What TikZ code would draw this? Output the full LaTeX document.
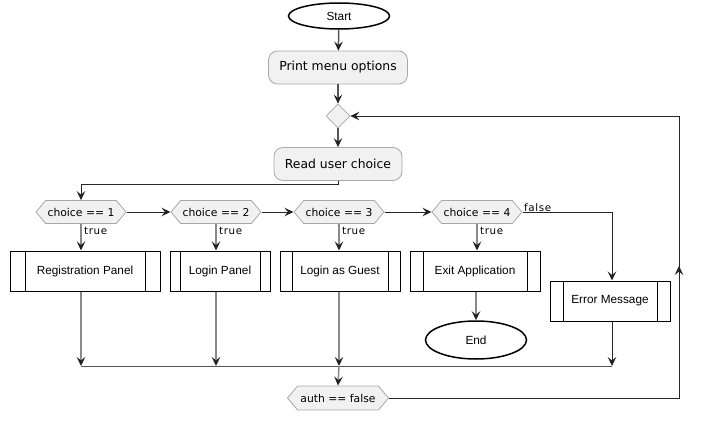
\documentclass[tikz,border=0pt]{standalone}
\usepackage{fontspec}
\setmainfont{Liberation Sans}
\newfontfamily\dvs{DejaVu Sans}
\newfontfamily\dvsl[LetterSpace=6]{DejaVu Sans}
\usetikzlibrary{shapes.geometric,shapes.symbols,arrows.meta}
\definecolor{boxfill}{HTML}{F1F1F1}
\definecolor{boxline}{HTML}{A8A8A8}
\definecolor{flowgray}{HTML}{8A8A8A}
\definecolor{topgray}{HTML}{555555}
\definecolor{tipcol}{HTML}{222222}
\tikzset{
  term/.style={ellipse, draw=black, line width=1.5pt, fill=white, inner sep=0pt,
    font=\fontsize{11.8}{14}\selectfont},
  act/.style={rectangle, rounded corners=9pt, draw=boxline, line width=0.8pt, fill=boxfill,
    minimum height=33pt, inner sep=0pt, font=\dvs\fontsize{12.4}{14}\selectfont},
  merge/.style={diamond, draw=boxline, line width=0.8pt, fill=boxfill, minimum size=24pt, inner sep=0pt},
  hexa/.style={signal, signal to=west and east, signal pointer angle=100, draw=boxline,
    line width=0.8pt, fill=boxfill, minimum width=90pt, minimum height=23pt, inner sep=0pt,
    font=\dvs\fontsize{10.8}{13}\selectfont},
  sub/.style={rectangle, draw=black, line width=1pt, fill=white, minimum height=40pt, inner sep=0pt,
    font=\fontsize{11.8}{14}\selectfont,
    path picture={\draw[line width=1pt]
      ([xshift=#1]path picture bounding box.north west) -- ([xshift=#1]path picture bounding box.south west)
      ([xshift=-#1]path picture bounding box.north east) -- ([xshift=-#1]path picture bounding box.south east);}},
  lbl/.style={font=\dvsl\fontsize{10.3}{12}\selectfont, inner sep=1pt},
  arr/.style={-{Stealth[length=9pt,width=8.5pt,inset=3.5pt,color=tipcol]}},
  gflow/.style={arr, draw=flowgray, line width=1.5pt},
  tflow/.style={arr, draw=topgray, line width=1.5pt},
  bflow/.style={arr, draw=black!85, line width=1pt},
  bline/.style={draw=black!85, line width=1pt},
}
\begin{document}
\begin{tikzpicture}[x=1pt,y=-1pt]
\useasboundingbox (0,0) rectangle (705,423);

\node[term, minimum width=101pt, minimum height=26pt] (start) at (339,16) {Start};
\node[act, minimum width=139pt] (print) at (338,67.5) {Print menu options};
\node[merge] (dia) at (338,116) {};
\node[act, minimum width=128pt] (read) at (338,164) {Read user choice};

\node[hexa] (c1) at (81,212) {choice == 1};
\node[hexa] (c2) at (216,212) {choice == 2};
\node[hexa] (c3) at (339,212) {choice == 3};
\node[hexa] (c4) at (477,212) {choice == 4};

\node[sub=15pt, minimum width=150pt] (reg) at (85,271) {Registration Panel};
\node[sub=10pt, minimum width=100pt] (login) at (220,271) {Login Panel};
\node[sub=12pt, minimum width=120pt] (guest) at (340,271) {Login as Guest};
\node[sub=13pt, minimum width=130pt] (exit) at (475,271) {Exit Application};
\node[term, minimum width=101pt, minimum height=38pt] (end) at (476,340) {End};
\node[sub=13pt, minimum width=120pt] (err) at (610,301) {Error Message};

\node[hexa, minimum width=101pt, minimum height=24pt] (auth) at (338,398) {auth == false};

\coordinate (turn) at (338,184);
\coordinate (f) at (612,212);
\coordinate (m) at (339,366);
\coordinate (lr) at (679,398);
\coordinate (lt) at (679,116);
\coordinate (la) at (679,266);

% top flow
\draw[tflow] (start) -- (print);
\draw[tflow] (print) -- (dia);
\draw[tflow] (dia) -- (read);
\draw[bline] (read.south) -- (turn) -- (turn -| c1.north);
\draw[bflow] (turn -| c1.north) -- (c1.north);

% decision chain
\draw[bflow] (c1.east) -- (c2.west);
\draw[bflow] (c2.east) -- (c3.west);
\draw[bflow] (c3.east) -- (c4.west);
\draw[bline] (c4.east) -- (f);
\draw[bflow] (f) -- (err.north -| f);
\node[lbl, anchor=south west] at ([xshift=0.5pt,yshift=-0.5pt]c4.east) {false};

% true branches
\draw[gflow] (c1.south) -- (c1.south |- reg.north);
\draw[gflow] (c2.south) -- (c2.south |- login.north);
\draw[gflow] (c3.south) -- (c3.south |- guest.north);
\draw[gflow] (c4.south) -- (c4.south |- exit.north);
\node[lbl, anchor=west] at ([xshift=2pt,yshift=-7pt]c1.south) {true};
\node[lbl, anchor=west] at ([xshift=2pt,yshift=-7pt]c2.south) {true};
\node[lbl, anchor=west] at ([xshift=2pt,yshift=-7pt]c3.south) {true};
\node[lbl, anchor=west] at ([xshift=2pt,yshift=-7pt]c4.south) {true};

\draw[gflow] (exit.south -| end.north) -- (end.north);

% merge
\draw[gflow] (c1.south |- reg.south) -- (c1.south |- m);
\draw[gflow] (c2.south |- login.south) -- (c2.south |- m);
\draw[gflow] (c3.south |- guest.south) -- (m);
\draw[bflow] (f |- err.south) -- (f |- m);
\draw[draw=topgray, line width=1pt] (c1.south |- m) -- (f |- m);
\draw[gflow] (m) -- (auth.north);

% loop back
\draw[bline] (auth.east) -- (lr) -- (lt);
\draw[bflow] (lr) -- (la);
\draw[bflow] (lt) -- (dia.east);
\end{tikzpicture}
\end{document}
